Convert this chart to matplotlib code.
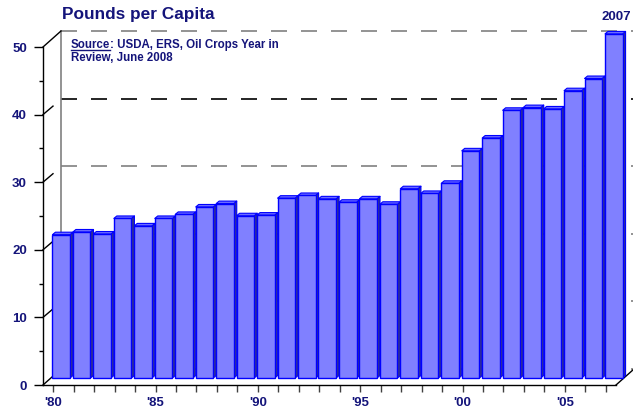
import matplotlib
matplotlib.use('Agg')
import matplotlib.pyplot as plt
import matplotlib.transforms as transforms
from matplotlib.collections import PolyCollection
from matplotlib.lines import Line2D

matplotlib.rc('font', family=['Liberation Sans', 'DejaVu Sans'], weight='bold')

years = list(range(1980, 2008))
pounds = [21.2, 21.6, 21.3, 23.6, 22.5, 23.6, 24.2, 25.3, 25.8, 24.0,
          24.1, 26.6, 27.0, 26.5, 26.0, 26.5, 25.7, 28.0, 27.3, 28.8,
          33.6, 35.5, 39.6, 40.0, 39.8, 42.5, 44.3, 50.9]
label_years = [1980, 1985, 1990, 1995, 2000, 2005]
year_labels = ["'80", "'85", "'90", "'95", "'00", "'05"]
y_ticks = [0, 10, 20, 30, 40, 50]
grid_vals = [0, 10, 20, 30, 40, 50]

NAVY = '#14147a'
FACE = '#8080ff'
EDGE = '#0000ff'
SIDE = '#35358a'
TOP = '#6c6cff'

fig = plt.figure(figsize=(6.33, 4.13), dpi=100)
ax = fig.add_axes([43 / 633, 28 / 413, 573 / 633, 338 / 413])
n = len(years)
x = list(range(n))
ax.set_xlim(-0.5, n - 0.5)
ax.set_ylim(0, 50)

# pixels per data unit, used for the fake 3d depth
ux = ax.bbox.width / n
uy = ax.bbox.height / 50
wall_dx, wall_dy = 18, 16      # depth of the floor / side wall (px)
bar_dx, bar_dy = 8, 7          # where the bar fronts sit (px)
dep_dx, dep_dy = 3, 2.5        # depth of a bar (px)

wall_tr = transforms.offset_copy(ax.transData, fig=fig, x=wall_dx, y=wall_dy, units='dots')
bar_tr = transforms.offset_copy(ax.transData, fig=fig, x=bar_dx, y=bar_dy, units='dots')

# back wall
for v in grid_vals:
    col = 'black' if v == 40 else '#808080'
    ax.plot([-0.5, n - 0.5], [v, v], color=col, lw=1.2, ls=(0, (9.6, 8.4)),
            transform=wall_tr, clip_on=False, zorder=0.5)
ax.plot([-0.5, -0.5], [0, 50], color='#808080', lw=1.2,
        transform=wall_tr, clip_on=False, zorder=0.6)

# side wall / floor edges
for v in y_ticks:
    if v in (0, 50):
        ex, ey = wall_dx, wall_dy
    else:
        ex, ey = 10, 8.5
    ax.plot([-0.5, -0.5 + ex / ux], [v, v + ey / uy], color='black', lw=1,
            clip_on=False, zorder=0.7)
ax.plot([n - 0.5, n - 0.5 + wall_dx / ux], [0, wall_dy / uy], color='black', lw=1,
        clip_on=False, zorder=0.7)

# bars
w = 0.86
ddx, ddy = dep_dx / ux, dep_dy / uy
sides, tops = [], []
for xi, v in zip(x, pounds):
    r = xi + w / 2
    l = xi - w / 2
    sides.append([(r, 0), (r, v), (r + ddx, v + ddy), (r + ddx, ddy)])
    tops.append([(l, v), (r, v), (r + ddx, v + ddy), (l + ddx, v + ddy)])
ax.add_collection(PolyCollection(sides, facecolors=SIDE, edgecolors=EDGE, linewidths=0.8,
                                 transform=bar_tr, clip_on=False, zorder=2))
ax.add_collection(PolyCollection(tops, facecolors=TOP, edgecolors=EDGE, linewidths=0.8,
                                 transform=bar_tr, clip_on=False, zorder=2))
bars = ax.bar(x, pounds, width=w, color=FACE, edgecolor=EDGE, linewidth=1.0, zorder=3)
for b in bars:
    b.set_transform(bar_tr)
    b.set_clip_on(False)

# axes
for s in ('top', 'right'):
    ax.spines[s].set_visible(False)
for s in ('left', 'bottom'):
    ax.spines[s].set_linewidth(1.0)
    ax.spines[s].set_zorder(4)
ax.set_yticks(y_ticks)
ax.set_yticks(range(5, 50, 10), minor=True)
ax.tick_params(axis='y', which='major', length=6.5, width=1, direction='out',
               labelsize=9.5, labelcolor=NAVY, pad=5)
ax.tick_params(axis='y', which='minor', length=3, width=1, direction='out')
lab = dict(zip(label_years, year_labels))
ax.set_xticks(x)
ax.set_xticklabels([lab.get(y, '') for y in years])
ax.tick_params(axis='x', length=5, width=1, color='#404040', direction='out',
               labelsize=9.5, labelcolor=NAVY, pad=4)
ax.patch.set_visible(False)

# texts
fig.text(62 / 633, 1 - 15 / 413, 'Pounds per Capita', ha='left', va='center',
         fontsize=12.4, color=NAVY)
fig.text(616 / 633, 1 - 17 / 413, '2007', ha='center', va='center',
         fontsize=9.5, color=NAVY)

renderer = fig.canvas.get_renderer()
src = fig.text(71 / 633, 1 - 45 / 413, 'Source', ha='left', va='center',
               fontsize=8.3, color=NAVY)
bb = src.get_window_extent(renderer)
fig.text(bb.x1 / 633, 1 - 45 / 413, ': USDA, ERS, Oil Crops Year in', ha='left',
         va='center', fontsize=8.3, color=NAVY)
fig.text(71 / 633, 1 - 58 / 413, 'Review, June 2008', ha='left', va='center',
         fontsize=8.3, color=NAVY)
fig.add_artist(Line2D([bb.x0, bb.x1], [bb.y0 + 1, bb.y0 + 1], color=NAVY, lw=1,
                      transform=transforms.IdentityTransform()))

plt.savefig('out.png', dpi=100)
